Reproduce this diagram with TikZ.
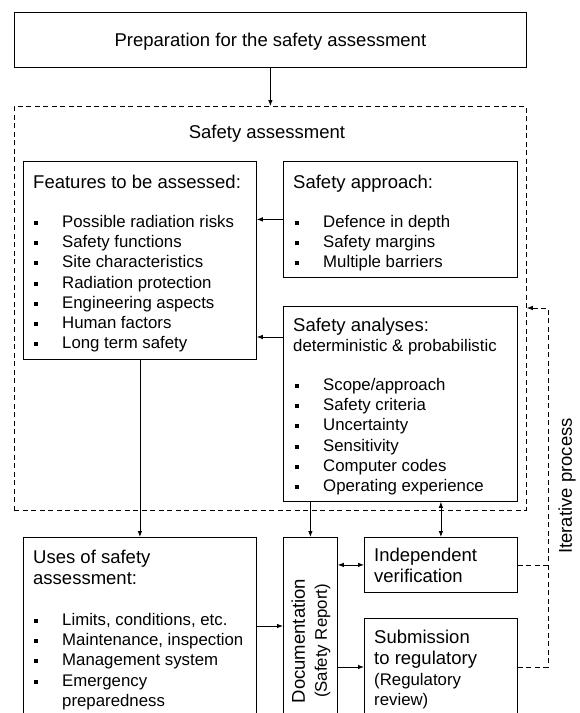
\documentclass[tikz,border=0pt]{standalone}
\usepackage{fontspec}
\setmainfont{Liberation Sans}
\usetikzlibrary{arrows.meta}

\newcommand\bl{\makebox[28pt][l]{\rule[2.5pt]{4pt}{4pt}}}
\newcommand\bc{\makebox[28pt]{}}

\begin{document}
\begin{tikzpicture}[x=1pt, y=-1pt,
  box/.style={draw, line width=0.8pt, inner sep=0pt, anchor=north west},
  dbox/.style={draw, line width=0.8pt, dash pattern=on 5pt off 3.5pt, inner sep=0pt, anchor=north west},
  head/.style={font=\fontsize{18.5}{21}\selectfont, align=left, inner sep=0pt, anchor=base west},
  lst/.style={font=\fontsize{16.8}{20.2}\selectfont, align=left, inner sep=0pt, anchor=base west},
  arr/.style={line width=0.8pt, -{Latex[length=6pt,width=4.5pt]}},
  darr/.style={line width=0.8pt, {Latex[length=6pt,width=4.5pt]}-{Latex[length=6pt,width=4.5pt]}},
  iter/.style={line width=0.8pt, dash pattern=on 5pt off 3.5pt}]
  \useasboundingbox (0,0) rectangle (580,713);
  \clip (0,0) rectangle (580,713);

  % boxes
  \node [box, minimum width=512pt, minimum height=55pt](prep) at (14,12) {};
  \node [dbox, minimum width=512pt, minimum height=404pt](sa) at (14,106) {};
  \node [box, minimum width=233pt, minimum height=198pt](feat) at (23,161) {};
  \node [box, minimum width=234pt, minimum height=116pt](appr) at (283,161) {};
  \node [box, minimum width=234pt, minimum height=195pt](anal) at (283,306) {};
  \node [box, minimum width=233pt, minimum height=210pt](uses) at (23,537) {};
  \node [box, minimum width=54pt, minimum height=210pt](doc) at (283,537) {};
  \node [box, minimum width=153pt, minimum height=55pt](indep) at (364,537) {};
  \node [box, minimum width=153pt, minimum height=130pt](subm) at (364,618) {};

  % texts (multi-line nodes sit on the baseline of their last line)
  \node [font=\fontsize{18.5}{21}\selectfont](prepT) at ([yshift=-2pt]prep) {Preparation for the safety assessment};
  \node [font=\fontsize{18.5}{21}\selectfont](saT) at (267,134) {Safety assessment};

  \node [head](featH) at (33,188) {Features to be assessed:};
  \node [lst](featL) at (34,348.7) {\bl Possible radiation risks\\ \bl Safety functions\\
    \bl Site characteristics\\ \bl Radiation protection\\ \bl Engineering aspects\\
    \bl Human factors\\ \bl Long term safety};

  \node [head](apprH) at (293,188) {Safety approach:};
  \node [lst](apprL) at (295,267.9) {\bl Defence in depth\\ \bl Safety margins\\ \bl Multiple barriers};

  \node [head](analH) at (293,331) {Safety analyses:};
  \node [lst](analS) at (293,351.5) {deterministic \& probabilistic};
  \node [lst](analL) at (295,491.5) {\bl Scope/approach\\ \bl Safety criteria\\ \bl Uncertainty\\
    \bl Sensitivity\\ \bl Computer codes\\ \bl Operating experience};

  \node [head](usesH) at (33,584) {Uses of safety\\assessment:};
  \node [lst](usesL) at (34,706.3) {\bl Limits, conditions, etc.\\ \bl Maintenance, inspection\\
    \bl Management system\\ \bl Emergency\\ \bc preparedness};

  \node [align=center, rotate=90, inner sep=0pt, font=\fontsize{16.8}{22}\selectfont](docT) at (311,641)
    {{\fontsize{18.5}{22}\selectfont Documentation}\\(Safety Report)};

  \node [head](indepH) at (374,582) {Independent\\verification};
  \node [head](submH) at (374,664) {Submission\\to regulatory};
  \node [lst](submS) at (374,705.2) {(Regulatory\\review)};

  \node [font=\fontsize{18.5}{21}\selectfont, rotate=90](iterT) at (567,486) {Iterative process};

  % connectors
  \coordinate (a1) at ([yshift=-31pt]anal.north west);
  \coordinate (a2) at ([yshift=-89pt]uses.north east);
  \coordinate (a3) at ([yshift=-130pt]doc.north east);
  \coordinate (i1) at (548,308);

  \draw [arr] (prep) -- (sa);
  \draw [arr] (appr.west) -- (appr.west -| feat.east);
  \draw [arr] (a1) -- (a1 -| feat.east);
  \draw [arr] (feat) -- (uses);
  \draw [arr] (doc.north |- anal.south) -- (doc.north);
  \draw [darr] (indep.north |- anal.south) -- (indep.north);
  \draw [arr] (a2) -- (a2 -| doc.west);
  \draw [darr] (indep.west -| doc.east) -- (indep.west);
  \draw [arr] (a3) -- (a3 -| subm.west);

  % iterative loop
  \draw [iter] (indep.east) -- (indep.east -| i1);
  \draw [iter, -{Latex[length=6pt,width=4.5pt]}] (a3 -| subm.east) -- (a3 -| i1) -- (i1) -- (i1 -| sa.east);
\end{tikzpicture}
\end{document}
